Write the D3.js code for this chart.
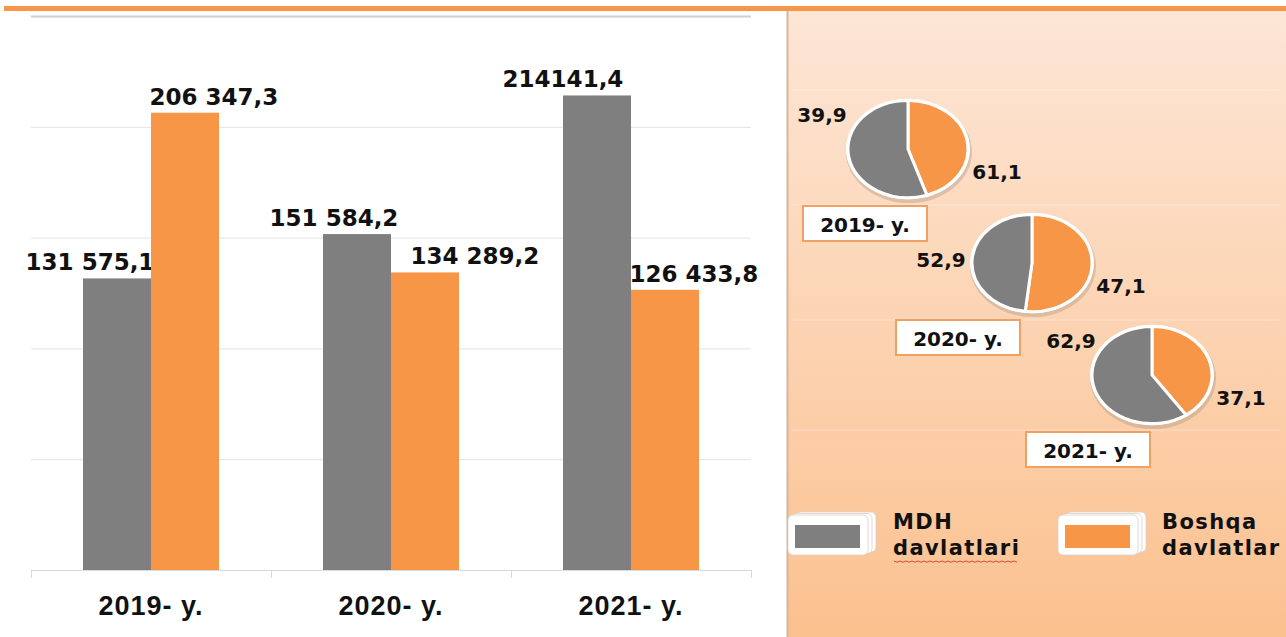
<!DOCTYPE html>
<html lang="uz">
<head>
<meta charset="utf-8">
<title>MDH va boshqa davlatlar</title>
<script src="https://cdn.jsdelivr.net/npm/d3@7"></script>
<style>
  body { margin: 0; background: #ffffff; }
  svg { display: block; }
</style>
</head>
<body>
<script>
// data
var years = ["2019- y.", "2020- y.", "2021- y."];
var mdh = [131575.1, 151584.2, 214141.4];
var boshqa = [206347.3, 134289.2, 126433.8];
var mdhText = ["131 575,1", "151 584,2", "214141,4"];
var boshqaText = ["206 347,3", "134 289,2", "126 433,8"];
var yTicks = [0, 50000, 100000, 150000, 200000, 250000];

// pie slices as they are drawn (shares in %), and the numbers printed next to them
var pieMdh = [55.1, 48.2, 59.6];
var pieBoshqa = [44.9, 51.8, 40.4];
var pieMdhText = ["39,9", "52,9", "62,9"];
var pieBoshqaText = ["61,1", "47,1", "37,1"];

var legendNames = [["MDH", "davlatlari"], ["Boshqa", "davlatlar"]];
var colors = ["#7f7f7f", "#f79646"];

var W = 1286, H = 637;
var svg = d3.select("body").append("svg")
    .attr("width", W)
    .attr("height", H);

var defs = svg.append("defs");
var grad = defs.append("linearGradient")
    .attr("id", "panelGrad")
    .attr("x1", 0).attr("y1", 0).attr("x2", 0).attr("y2", 1);
grad.append("stop").attr("offset", "0%").attr("stop-color", "#fde6d6");
grad.append("stop").attr("offset", "100%").attr("stop-color", "#fbc18f");

// right panel
svg.append("rect")
    .attr("x", 787).attr("y", 11)
    .attr("width", W - 787).attr("height", H - 11)
    .attr("fill", "url(#panelGrad)");
svg.append("line")
    .attr("x1", 787.5).attr("x2", 787.5)
    .attr("y1", 11).attr("y2", H)
    .attr("stroke", "#d8b597").attr("stroke-width", 2);
[90, 205, 320, 430].forEach(function (yy) {
  svg.append("line")
    .attr("x1", 792).attr("x2", 1280)
    .attr("y1", yy).attr("y2", yy)
    .attr("stroke", "#ffffff").attr("stroke-opacity", 0.35);
});

// orange strip on top
svg.append("rect")
    .attr("x", 4).attr("y", 6)
    .attr("width", W - 4).attr("height", 5)
    .attr("fill", "#f79646");

/* Bar chart */
var x0 = d3.scaleBand().domain(years).range([31, 751]);
var x1 = d3.scaleBand().domain([0, 1]).range([0, x0.bandwidth()]).paddingOuter(0.765);
var y = d3.scaleLinear().domain([0, 250000]).range([570, 16]);

var grid = svg.append("g")
    .attr("transform", "translate(31,0)")
    .call(d3.axisLeft(y).tickValues(yTicks).tickSize(-720).tickFormat(""));
grid.select(".domain").remove();
grid.selectAll(".tick line")
    .attr("stroke", function (d) { return d == 250000 ? "#cfcfcf" : "#e3e3e3"; })
    .attr("stroke-width", function (d) { return d == 250000 ? 2 : 1; });

// baseline with ticks at band edges
var edges = years.map(function (d) { return x0(d); }).concat([x0(years[2]) + x0.bandwidth()]);
svg.append("line")
    .attr("x1", 31).attr("x2", 751)
    .attr("y1", y(0) + 0.5).attr("y2", y(0) + 0.5)
    .attr("stroke", "#d9d9d9");
svg.selectAll(".edge").data(edges).enter().append("line")
    .attr("x1", function (d) { return d + 0.5; })
    .attr("x2", function (d) { return d + 0.5; })
    .attr("y1", y(0)).attr("y2", y(0) + 8)
    .attr("stroke", "#d9d9d9");

var series = [mdh, boshqa];
var seriesText = [mdhText, boshqaText];
// manual nudges of the value labels, as on the slide
var labelShift = [[-27, -23, -34], [29, 50, 29]];

series.forEach(function (vals, s) {
  svg.selectAll(".bar" + s).data(vals).enter().append("rect")
      .attr("x", function (d, i) { return x0(years[i]) + x1(s); })
      .attr("y", function (d) { return y(d); })
      .attr("width", x1.bandwidth())
      .attr("height", function (d) { return y(0) - y(d); })
      .attr("fill", colors[s]);

  svg.selectAll(".lab" + s).data(vals).enter().append("text")
      .attr("x", function (d, i) { return x0(years[i]) + x1(s) + x1.bandwidth() / 2 + labelShift[s][i]; })
      .attr("y", function (d) { return y(d) - 8; })
      .attr("text-anchor", "middle")
      .attr("font-family", "DejaVu Sans")
      .attr("font-weight", "bold")
      .attr("font-size", "23px")
      .attr("fill", "#111")
      .text(function (d, i) { return seriesText[s][i]; });
});

svg.selectAll(".xlab").data(years).enter().append("text")
    .attr("x", function (d) { return x0(d) + x0.bandwidth() / 2; })
    .attr("y", 615)
    .attr("text-anchor", "middle")
    .attr("font-family", "Liberation Sans")
    .attr("font-weight", "bold")
    .attr("font-size", "27px")
    .attr("letter-spacing", "1px")
    .attr("fill", "#111")
    .text(function (d) { return d; });

/* Pies */
var pieCenters = [[908, 149], [1032, 263], [1152, 375]];
var pieR = 60, tilt = 0.81;
var pie = d3.pie().sort(null).value(function (d) { return d; });
var arc = d3.arc().innerRadius(0).outerRadius(pieR);

function label(x, yy, txt, size) {
  return svg.append("text")
    .attr("x", x).attr("y", yy)
    .attr("text-anchor", "middle")
    .attr("font-family", "DejaVu Sans")
    .attr("font-weight", "bold")
    .attr("font-size", size)
    .attr("fill", "#111")
    .text(txt);
}

var boxDx = [-43, -74, -64];
years.forEach(function (yr, i) {
  var cx = pieCenters[i][0], cy = pieCenters[i][1];
  // soft shadow
  svg.append("ellipse")
      .attr("cx", cx + 1).attr("cy", cy + 3)
      .attr("rx", pieR + 3).attr("ry", (pieR + 3) * tilt)
      .attr("fill", "#a08c7c").attr("opacity", 0.35);
  var g = svg.append("g")
      .attr("transform", "translate(" + cx + "," + cy + ") scale(1," + tilt + ")");
  g.append("circle").attr("r", pieR + 2).attr("fill", "#ffffff");
  g.selectAll("path")
      .data(pie([pieBoshqa[i], pieMdh[i]]))
      .enter().append("path")
      .attr("d", arc)
      .attr("fill", function (d, k) { return k == 0 ? colors[1] : colors[0]; })
      .attr("stroke", "#ffffff")
      .attr("stroke-width", 3)
      .attr("vector-effect", "non-scaling-stroke");

  label(cx - 86 + (i == 1 ? -5 : i == 2 ? 5 : 0), cy + (i == 1 ? 4 : -27), pieMdhText[i], "20px");
  label(cx + 89, cy + 30, pieBoshqaText[i], "20px");

  // year box
  var bx = cx + boxDx[i], by = cy + 57;
  svg.append("rect")
      .attr("x", bx - 62).attr("y", by)
      .attr("width", 124).attr("height", 35)
      .attr("fill", "#ffffff")
      .attr("stroke", "#f0a060").attr("stroke-width", 2);
  label(bx, by + 26, yr, "20px");
});

/* Legend */
var legendX = [788, 1058];
legendNames.forEach(function (nm, i) {
  var lx = legendX[i], ly = 513;
  for (var k = 2; k >= 0; k--) {
    svg.append("rect")
        .attr("x", lx + k * 4).attr("y", ly + 2 - k * 1.5)
        .attr("width", 80).attr("height", 40)
        .attr("rx", 5)
        .attr("fill", "#ffffff")
        .attr("stroke", "#d8d0c8").attr("stroke-width", 0.8);
  }
  svg.append("rect")
      .attr("x", lx + 7).attr("y", ly + 12)
      .attr("width", 65).attr("height", 23)
      .attr("fill", colors[i]);

  nm.forEach(function (line, k) {
    svg.append("text")
        .attr("x", lx + 105 - (i == 1 ? 1 : 0)).attr("y", 529 + k * 26)
        .attr("font-family", "DejaVu Sans")
        .attr("font-weight", "bold")
        .attr("font-size", "21px")
        .attr("letter-spacing", "1.4px")
        .attr("fill", "#111")
        .text(line);
  });
});

// spell-check squiggle under "davlatlari"
var wave = d3.range(0, 126, 3).map(function (d, k) { return [894 + d, 561 + (k % 2 ? 1.2 : 0)]; });
svg.append("path")
    .attr("d", d3.line()(wave))
    .attr("fill", "none")
    .attr("stroke", "#d24b3c")
    .attr("stroke-width", 1);
</script>
</body>
</html>
